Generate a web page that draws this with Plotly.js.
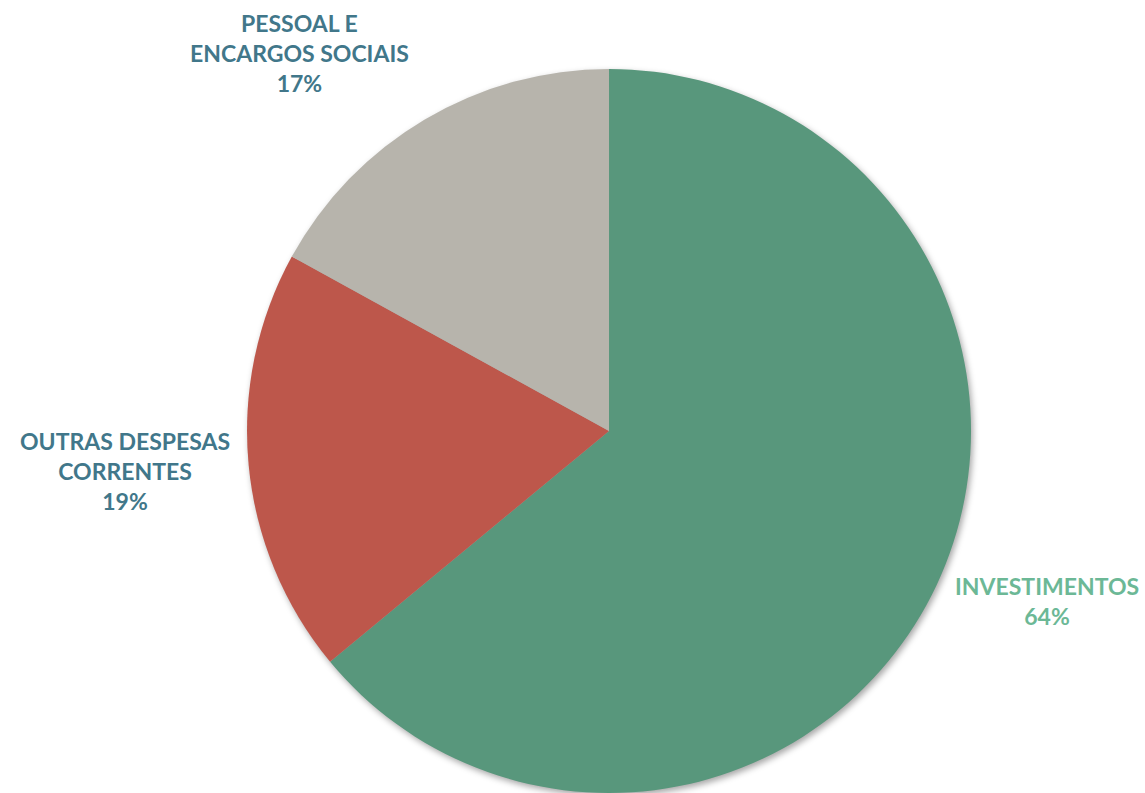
<!DOCTYPE html>
<html>
<head>
<meta charset="utf-8">
<script src="https://cdn.plot.ly/plotly-3.0.1.min.js"></script>
<style>
  html, body { margin: 0; padding: 0; background: #ffffff; }
  #chart { width: 1145px; height: 793px; }
  #chart .pielayer { filter: drop-shadow(2px 3px 3px rgba(0,0,0,0.35)); }
</style>
</head>
<body>
<div id="chart"></div>
<script>
// Data
var categories = ["INVESTIMENTOS", "OUTRAS DESPESAS CORRENTES", "PESSOAL E ENCARGOS SOCIAIS"];
var labelText = ["INVESTIMENTOS", "OUTRAS DESPESAS<br>CORRENTES", "PESSOAL E<br>ENCARGOS SOCIAIS"];
var values = [64, 19, 17];

// Styles
var sliceColors = ["#58977C", "#BD574B", "#B7B4AC"];
var labelColors = ["#6CB896", "#41778A", "#41778A"];
var labelPos = [[0.914, 0.242], [0.109, 0.406], [0.262, 0.933]];

var total = values.reduce(function (a, b) { return a + b; }, 0);
var annotations = categories.map(function (c, i) {
  return {
    text: labelText[i] + "<br>" + Math.round(values[i] / total * 100) + "%",
    x: labelPos[i][0], y: labelPos[i][1], xref: "paper", yref: "paper",
    xanchor: "center", yanchor: "middle", showarrow: false, align: "center",
    font: { family: "Lato, 'Open Sans', sans-serif", size: 23, color: labelColors[i], weight: 700 }
  };
});

var trace = {
  type: "pie",
  labels: categories,
  values: values,
  sort: false,
  direction: "clockwise",
  rotation: 0,
  textinfo: "none",
  hoverinfo: "label+percent",
  marker: { colors: sliceColors, line: { width: 0 } },
  domain: { x: [0.2148, 0.849], y: [0, 0.913] },
  showlegend: false
};

var layout = {
  width: 1145, height: 793,
  margin: { l: 0, r: 0, t: 0, b: 0 },
  paper_bgcolor: "#ffffff",
  showlegend: false,
  annotations: annotations
};

Plotly.newPlot("chart", [trace], layout, { displayModeBar: false, staticPlot: true });
</script>
</body>
</html>
